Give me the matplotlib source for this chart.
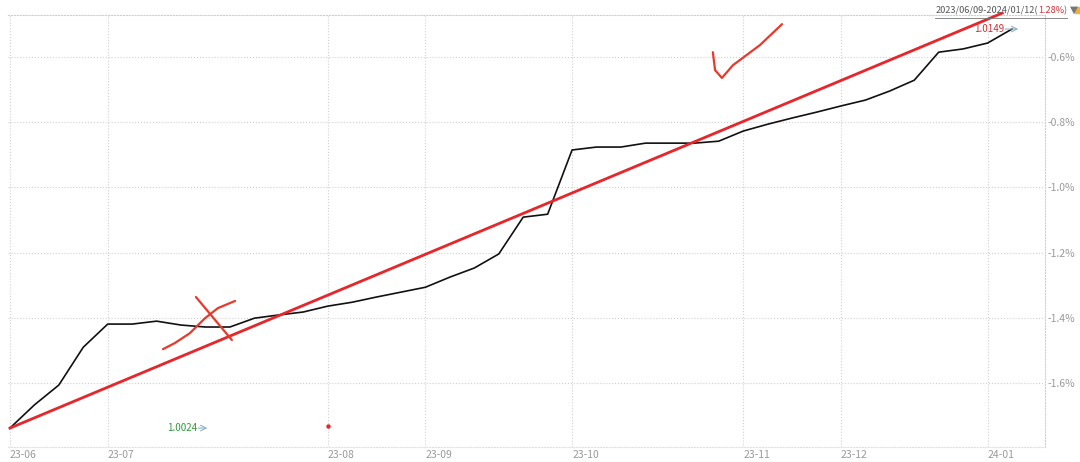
import matplotlib
matplotlib.use('Agg')
import matplotlib.pyplot as plt
import numpy as np

# weekly-ish points, x axis is point index
nav_pct = [-1.738, -1.667, -1.606, -1.490, -1.419, -1.419, -1.410, -1.422, -1.428, -1.428,
           -1.401, -1.391, -1.382, -1.364, -1.352, -1.336, -1.321, -1.306, -1.275, -1.247,
           -1.204, -1.091, -1.082, -0.885, -0.876, -0.876, -0.864, -0.864, -0.864, -0.858,
           -0.827, -0.806, -0.787, -0.769, -0.750, -0.732, -0.704, -0.671, -0.585, -0.575,
           -0.557, -0.514]
month_idx = [0, 4, 13, 17, 23, 30, 34, 40]
month_labels = ['23-06', '23-07', '23-08', '23-09', '23-10', '23-11', '23-12', '24-01']
y_ticks = [-1.6, -1.4, -1.2, -1.0, -0.8, -0.6]

# red trend line drawn over the chart
trend_x = [0, 40.6]
trend_y = [-1.738, -0.465]

# hand-drawn marks
cross_a_x = [7.61, 9.08]
cross_a_y = [-1.336, -1.468]
cross_b_x = [6.26, 6.75, 7.36, 7.98, 8.51, 9.21]
cross_b_y = [-1.496, -1.477, -1.447, -1.401, -1.370, -1.348]
check_x = [28.76, 28.85, 29.13, 29.58, 30.69, 31.59]
check_y = [-0.585, -0.640, -0.664, -0.625, -0.563, -0.499]

start_label = '1.0024'
end_label = '1.0149'
period = '2023/06/09-2024/01/12('
period_ret = '1.28%'

plt.rcParams['font.family'] = ['Noto Sans CJK SC', 'DejaVu Sans']

fig = plt.figure(figsize=(10.8, 4.62), dpi=100)
ax = fig.add_axes([0.0074, 0.0325, 0.9602, 0.935])

x = np.arange(len(nav_pct))
ax.plot(x, nav_pct, color='#111111', lw=1.2, zorder=3)
ax.plot(trend_x, trend_y, color='#e8262a', lw=2.0, zorder=4, clip_on=False)

red = '#e8392c'
ax.plot(cross_a_x, cross_a_y, color=red, lw=1.6, zorder=5, solid_capstyle='round')
ax.plot(cross_b_x, cross_b_y, color=red, lw=1.6, zorder=5, solid_capstyle='round')
ax.plot(check_x, check_y, color=red, lw=1.6, zorder=5, solid_capstyle='round')
ax.plot([13.01], [-1.732], 'o', color='#e8262a', ms=2.2, zorder=5)

ax.set_xlim(-0.08, 42.35)
ax.set_ylim(-1.796, -0.471)

ax.set_xticks(month_idx)
ax.set_xticklabels(month_labels, ha='left')
ax.set_yticks(y_ticks)
ax.set_yticklabels(['%.1f%%' % v for v in y_ticks])
ax.yaxis.tick_right()
ax.tick_params(axis='both', length=0, labelsize=7.5, colors='#9a9a9a')
ax.tick_params(axis='x', pad=2)
ax.tick_params(axis='y', pad=2)

ax.grid(True, ls=':', color='#cfcfcf', lw=0.8)
ax.spines['left'].set_visible(False)
for s in ['top', 'right']:
    ax.spines[s].set_linestyle(':')
    ax.spines[s].set_color('#cfcfcf')
    ax.spines[s].set_linewidth(0.8)
ax.spines['bottom'].set_linestyle(':')
ax.spines['bottom'].set_color('#e0e0e0')
ax.spines['bottom'].set_linewidth(0.8)

# value labels with small arrows
arrow_kw = dict(arrowstyle='->', color='#8fb3c8', lw=0.8, shrinkA=0, shrinkB=0)
t_start = ax.text(6.45, -1.738, start_label, color='#2e9a3a', fontsize=7,
                  va='center', ha='left')
ax.annotate('', xy=(1.32, 0.5), xycoords=t_start, xytext=(1.02, 0.5),
            textcoords=t_start, arrowprops=arrow_kw)
t_end = ax.text(40.7, -0.514, end_label, color='#c8333a', fontsize=7,
                va='center', ha='right')
ax.annotate('', xy=(1.45, 0.5), xycoords=t_end, xytext=(1.02, 0.5),
            textcoords=t_end, arrowprops=arrow_kw)

# period header
fs = 6.6
x0 = 0.866
t1 = fig.text(x0, 0.977, period, fontsize=fs, color='#555555', va='center', ha='left')
fig.canvas.draw()
x1 = t1.get_window_extent().x1 / fig.bbox.width
t2 = fig.text(x1, 0.977, period_ret, fontsize=fs, color='#d0343a', va='center', ha='left')
fig.canvas.draw()
x2 = t2.get_window_extent().x1 / fig.bbox.width
t3 = fig.text(x2, 0.977, ')', fontsize=fs, color='#555555', va='center', ha='left')
fig.canvas.draw()
x3 = t3.get_window_extent().x1 / fig.bbox.width
fig.add_artist(plt.Line2D([x0, x3], [0.961, 0.961], color='#777777', lw=0.6))
fig.text(x3 + 0.003, 0.979, '▼', fontsize=7.5, color='#777777', va='center', ha='left',
         family=['DejaVu Sans'])
fig.add_artist(plt.Rectangle((0.9955, 0.971), 0.006, 0.014, color='#f2b134',
                             transform=fig.transFigure))

fig.savefig('out.png', dpi=100)
